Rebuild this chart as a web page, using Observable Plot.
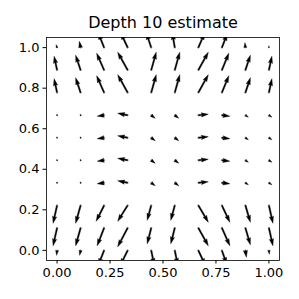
<!DOCTYPE html>
<html><head><meta charset="utf-8">
<script src="https://cdn.jsdelivr.net/npm/d3@7"></script>
<script src="https://cdn.jsdelivr.net/npm/@observablehq/plot@0.6"></script>
<style>body{margin:0;background:#fff}</style>
</head><body><div id="chart"></div>
<script>
const title = "Depth 10 estimate";
const gridX = [0, 0.1111, 0.2222, 0.3333, 0.4444, 0.5556, 0.6667, 0.7778, 0.8889, 1];
const gridY = [0, 0.1111, 0.2222, 0.3333, 0.4444, 0.5556, 0.6667, 0.7778, 0.8889, 1];
const xTicks = [0, 0.25, 0.5, 0.75, 1];
const yTicks = [0, 0.2, 0.4, 0.6, 0.8, 1];
// vector components per row (row 0 = y 0 ... row 9 = y 1), columns left to right
const uRows = [
  [-0.025, -0.05, -0.30, -0.375, 0.15, 0.15, 0.35, 0.25, 0.05, 0.025],
  [-0.20, -0.25, -0.35, -0.50, -0.20, -0.20, 0.50, 0.40, 0.25, 0.20],
  [-0.20, -0.25, -0.40, -0.50, -0.20, -0.20, 0.50, 0.40, 0.25, 0.20],
  [-0.05, -0.05, -0.35, -0.50, 0.20, 0.20, 0.50, 0.40, 0.15, 0.15],
  [-0.05, -0.05, -0.35, -0.50, 0.20, 0.20, 0.50, 0.40, 0.15, 0.15],
  [-0.05, -0.05, -0.35, -0.50, 0.20, 0.20, 0.50, 0.40, 0.15, 0.15],
  [-0.05, -0.05, -0.35, -0.50, 0.20, 0.20, 0.50, 0.40, 0.15, 0.15],
  [-0.15, -0.25, -0.375, -0.50, 0.25, 0.25, 0.50, 0.35, 0.25, 0.15],
  [-0.15, -0.25, -0.375, -0.50, 0.25, 0.25, 0.50, 0.35, 0.25, 0.15],
  [-0.05, -0.065, -0.30, -0.35, -0.25, -0.125, 0.325, 0.275, -0.025, 0.0]
];
const vRows = [
  [-0.25, -0.25, -0.75, -0.75, -0.75, -0.75, -0.75, -0.70, -0.35, -0.20],
  [-0.90, -0.90, -0.90, -0.95, -0.80, -0.80, -0.90, -0.90, -0.85, -0.90],
  [-0.90, -0.90, -0.80, -0.80, -0.75, -0.75, -0.85, -0.85, -0.85, -0.90],
  [0.0, 0.0, -0.05, 0.10, -0.15, -0.15, 0.05, -0.05, -0.10, -0.10],
  [0.0, 0.0, -0.05, 0.10, -0.15, -0.15, 0.05, -0.05, -0.10, -0.10],
  [0.0, 0.0, -0.05, 0.10, -0.15, -0.15, 0.05, -0.05, -0.10, -0.10],
  [0.0, 0.0, -0.05, 0.10, -0.15, -0.15, 0.05, -0.05, -0.10, -0.10],
  [0.70, 0.75, 0.85, 0.90, 0.90, 0.90, 0.90, 0.85, 0.75, 0.70],
  [0.70, 0.75, 0.85, 0.90, 0.90, 0.90, 0.90, 0.85, 0.75, 0.70],
  [0.15, 0.315, 0.75, 0.75, 0.75, 0.75, 0.75, 0.70, 0.25, 0.10]
];

const table = [];
gridY.forEach((y, j) => gridX.forEach((x, i) => table.push({x, y, u: uRows[j][i], v: vRows[j][i]})));

// matplotlib-like quiver arrow (shaft width W px)
const W = 1.4;
const quiverArrow = {
  draw(ctx, l) {
    const L = l / W, hl = 5, hal = 4.5, hw = 3, minsh = 5, minlen = 1;
    if (L < minlen) {
      for (let k = 0; k < 6; k++) {
        const th = k * Math.PI / 3;
        const px = Math.cos(th) * 0.5 * minlen * W, py = Math.sin(th) * 0.5 * minlen * W;
        if (k === 0) ctx.moveTo(px, py); else ctx.lineTo(px, py);
      }
      ctx.closePath();
      return;
    }
    let a, b;
    if (L < minsh) {
      const s = L / minsh;
      a = [0, minsh - hal, minsh - hl, minsh].map(t => t * s);
      b = [0.5, 0.5, hw / 2, 0].map(t => t * s);
    } else {
      a = [0, L - hal, L - hl, L];
      b = [0.5, 0.5, hw / 2, 0];
    }
    const pts = [[a[0], b[0]], [a[1], b[1]], [a[2], b[2]], [a[3], 0], [a[2], -b[2]], [a[1], -b[1]], [a[0], -b[0]]];
    pts.forEach(([p, q], k) => {
      const sx = q * W, sy = -p * W;
      if (k === 0) ctx.moveTo(sx, sy); else ctx.lineTo(sx, sy);
    });
    ctx.closePath();
  }
};

const chart = Plot.plot({
  width: 299, height: 299,
  marginLeft: 46, marginRight: 20, marginTop: 37, marginBottom: 39,
  style: {fontFamily: "DejaVu Sans", fontSize: "13px", background: "white", color: "black"},
  x: {domain: [-0.05, 1.05], ticks: xTicks, tickFormat: d3.format(".2f"), tickSize: 3.5, tickPadding: 3.5, label: null},
  y: {domain: [-0.05, 1.05], ticks: yTicks, tickFormat: d3.format(".1f"), tickSize: 3.5, tickPadding: 3.5, label: null},
  length: {type: "linear", domain: [0, 1], range: [0, 20]},
  marks: [
    Plot.vector(table, {
      x: "x", y: "y",
      length: d => Math.hypot(d.u, d.v),
      rotate: d => Math.atan2(d.u, d.v) * 180 / Math.PI,
      anchor: "start", shape: quiverArrow,
      fill: "black", stroke: "black", strokeWidth: 0.35, clip: true
    }),
    Plot.frame({stroke: "black", strokeWidth: 0.8}),
    Plot.text([title], {frameAnchor: "top", dy: -21, fontSize: 16, fill: "black"})
  ]
});
document.getElementById("chart").appendChild(chart);
</script>
</body></html>
